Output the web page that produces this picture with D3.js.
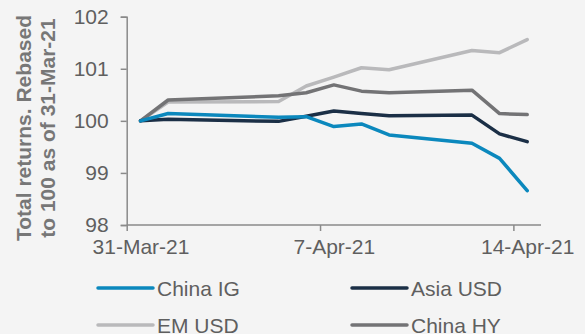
<!DOCTYPE html>
<html>
<head>
<meta charset="utf-8">
<script src="https://cdn.jsdelivr.net/npm/d3@7"></script>
<style>
  html, body { margin: 0; padding: 0; background: #f4f4f4; }
  svg { display: block; }
  text { font-family: "Liberation Sans", Arial, sans-serif; }
</style>
</head>
<body>
<svg id="chart" width="585" height="334"></svg>
<script>
// ---- Data ----
const dates = ["2021-03-31","2021-04-01","2021-04-05","2021-04-06","2021-04-07",
               "2021-04-08","2021-04-09","2021-04-12","2021-04-13","2021-04-14"];
const chinaIG  = [100, 100.14, 100.07, 100.08, 99.89, 99.94, 99.73, 99.57, 99.28, 98.66];
const asiaUSD  = [100, 100.03, 99.99, 100.09, 100.19, 100.14, 100.10, 100.11, 99.75, 99.60];
const emUSD    = [100, 100.36, 100.37, 100.67, 100.84, 101.02, 100.98, 101.35, 101.31, 101.56];
const chinaHY  = [100, 100.40, 100.48, 100.54, 100.69, 100.57, 100.54, 100.59, 100.14, 100.12];
const seriesNames = ["China IG", "Asia USD", "EM USD", "China HY"];
const yTicks = [98, 99, 100, 101, 102];
const xTickDates = ["2021-03-31", "2021-04-07", "2021-04-14"];
const xTickLabels = ["31-Mar-21", "7-Apr-21", "14-Apr-21"];
const yTitle = ["Total returns. Rebased", "to 100 as of 31-Mar-21"];

const colors = ["#0b88bd", "#1b2f46", "#b9b9bb", "#737375"];
const seriesValues = [chinaIG, asiaUSD, emUSD, chinaHY];

// ---- Layout ----
const L = 126.7, R = 541, T = 16.7, B = 225;
const svg = d3.select("#chart");
const parse = d3.utcParse("%Y-%m-%d");
const DAY = 864e5;

const x = d3.scaleUtc()
  .domain([parse("2021-03-31"), new Date(+parse("2021-04-14") + DAY)])
  .range([L, R]);
const y = d3.scaleLinear().domain([98, 102]).range([B, T]);
const halfSlot = (x(new Date(+parse("2021-03-31") + DAY)) - x(parse("2021-03-31"))) / 2;
const xc = d => x(new Date(+parse(d) + DAY / 2));

const axisColor = "#8a8a8a";
const textColor = "#5f5f5f";

// Y axis
const yAxis = svg.append("g").attr("transform", `translate(${L},0)`)
  .call(d3.axisLeft(y).tickValues(yTicks).tickSize(6).tickPadding(12).tickFormat(d3.format("d")));
yAxis.select(".domain").attr("stroke", axisColor).attr("stroke-width", 1.5);
yAxis.selectAll(".tick line").attr("stroke", axisColor).attr("stroke-width", 1.5);
yAxis.selectAll(".tick text").attr("fill", textColor).style("font-size", "21px");

// X axis
const xAxis = svg.append("g").attr("transform", `translate(0,${B})`)
  .call(d3.axisBottom(x).tickValues(xTickDates.map(parse)).tickSize(6).tickPadding(8)
    .tickFormat((d, i) => xTickLabels[i]));
xAxis.select(".domain").attr("stroke", axisColor).attr("stroke-width", 1.5)
  .attr("d", `M${L},0H${R}`);
xAxis.selectAll(".tick line").attr("stroke", axisColor).attr("stroke-width", 1.5);
xAxis.selectAll(".tick text").attr("fill", textColor).style("font-size", "21px")
  .attr("dx", halfSlot);

// Y title
const tg = svg.append("g").attr("transform", "translate(0,128) rotate(-90)");
yTitle.forEach((t, i) => {
  tg.append("text").attr("x", 0).attr("y", 31 + i * 23.5)
    .attr("text-anchor", "middle").attr("fill", "#777777")
    .style("font-size", "21px").style("font-weight", "bold").text(t);
});

// Lines (draw order: China HY under? keep legend order, EM USD under HY)
const line = d3.line().x((d, i) => xc(dates[i])).y(d => y(d));
const order = [2, 3, 1, 0];
order.forEach(k => {
  svg.append("path").datum(seriesValues[k])
    .attr("d", line).attr("fill", "none")
    .attr("stroke", colors[k]).attr("stroke-width", 3.5)
    .attr("stroke-linejoin", "round").attr("stroke-linecap", "round");
});

// Legend
const legPos = [[98, 288], [352, 288], [98, 325], [352, 325]];
seriesNames.forEach((n, k) => {
  const [lx, ly] = legPos[k];
  svg.append("line").attr("x1", lx).attr("x2", lx + 55).attr("y1", ly).attr("y2", ly)
    .attr("stroke", colors[k]).attr("stroke-width", 3.5).attr("stroke-linecap", "round");
  svg.append("text").attr("x", lx + 59).attr("y", ly).attr("dy", "0.36em")
    .attr("fill", textColor).style("font-size", "21px").text(n);
});
</script>
</body>
</html>
